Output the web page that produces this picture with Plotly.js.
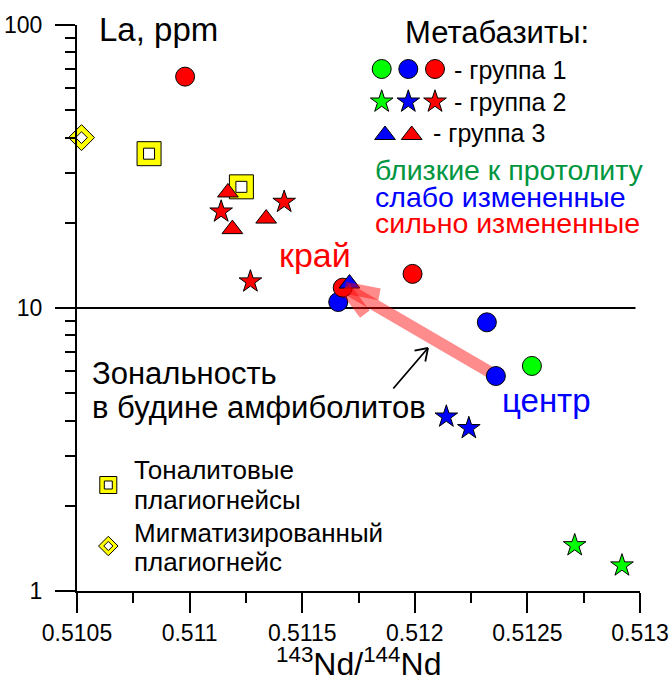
<!DOCTYPE html>
<html><head><meta charset="utf-8">
<script src="https://cdn.plot.ly/plotly-3.0.1.min.js"></script>
<style>html,body{margin:0;padding:0;background:#fff}#plot{width:672px;height:677px}</style>
</head><body><div id="plot"></div>
<script>
// ---- data (143Nd/144Nd vs La, ppm) ----
const g1GreenX = [0.51252];                     const g1GreenY = [6.24];
const g1BlueX  = [0.51166, 0.51232, 0.51236];   const g1BlueY  = [10.5, 8.9, 5.75];
const g1RedX   = [0.51098, 0.51199, 0.51168];   const g1RedY   = [65.7, 13.2, 11.8];
const g2GreenX = [0.51271, 0.51292];            const g2GreenY = [1.45, 1.23];
const g2BlueX  = [0.51214, 0.51224];            const g2BlueY  = [4.13, 3.76];
const g2RedX   = [0.51142, 0.51114, 0.51127];   const g2RedY   = [23.7, 21.9, 12.4];
const g3BlueX  = [0.51171];                     const g3BlueY  = [12.2];
const g3RedX   = [0.51117, 0.51134, 0.51119];   const g3RedY   = [25.6, 20.7, 19.0];
const tonX     = [0.51082, 0.51123];            const tonY     = [35.1, 26.8];
const migX     = [0.51052];                     const migY     = [40];
// reference line La = 10
const refLineX = [0.5105, 0.51298];             const refLineY = [10, 10];
// zonality arrow in boudin: centre -> rim
const zoneArrowX = [0.51233, 0.51169];          const zoneArrowY = [5.96, 11.8];
// ticks
const xTickVals = [0.5105, 0.511, 0.5115, 0.512, 0.5125, 0.513];
const xTickText = ['0.5105', '0.511', '0.5115', '0.512', '0.5125', '0.513'];
const xMinorVals = [0.51075, 0.51125, 0.51175, 0.51225, 0.51275];
const yTickVals = [1, 10, 100];
const yTickText = ['1', '10', '100'];
const yMinorVals = [2,3,4,5,6,7,8,9,20,30,40,50,60,70,80,90];
const xTitle = '<sup>143</sup>Nd/<sup>144</sup>Nd';

const FONT = 'Liberation Sans, Arial, sans-serif';
const GREEN = '#00FF00', BLUE = '#0000FF', RED = '#FF0000', YEL = '#FFFF00';
const PINK = 'rgba(255,0,0,0.45)';
const ln = {color: '#000', width: 1};

function pts(x, y, symbol, size, color, extra) {
  return Object.assign({type: 'scatter', mode: 'markers', x: x, y: y, hoverinfo: 'skip', showlegend: false,
    marker: {symbol: symbol, size: size, color: color, line: ln}}, extra || {});
}
// overlay pixel-space axes for key symbols
function key(x, y, symbol, size, color) {
  return pts(x, y, symbol, size, color, {xaxis: 'x2', yaxis: 'y2', cliponaxis: false});
}

const traces = [
  {type: 'scatter', mode: 'lines', x: refLineX, y: refLineY, line: {color: '#000', width: 2}, hoverinfo: 'skip', showlegend: false},
  {type: 'scatter', mode: 'lines', x: zoneArrowX, y: zoneArrowY, line: {color: PINK, width: 12}, hoverinfo: 'skip', showlegend: false},
  pts(tonX, tonY, 'square', 24, YEL),
  pts(tonX, tonY, 'square', 11, '#fff'),
  pts(migX, migY, 'diamond', 20, YEL, {cliponaxis: false}),
  pts(migX, migY, 'diamond', 9, '#fff', {cliponaxis: false}),
  pts(g1BlueX, g1BlueY, 'circle', 19, BLUE),
  pts(g1RedX, g1RedY, 'circle', 19, RED),
  pts(g1GreenX, g1GreenY, 'circle', 19, GREEN),
  pts(g2GreenX, g2GreenY, 'star', 17, GREEN),
  pts(g2BlueX, g2BlueY, 'star', 17, BLUE),
  pts(g2RedX, g2RedY, 'star', 17, RED),
  pts(g3RedX, g3RedY, 'triangle-up', 18, RED),
  pts(g3BlueX, g3BlueY, 'triangle-up', 18, BLUE),
  // key symbols (pixel positions on overlay axes)
  key([381.7, 408.3, 435], [69, 69, 69], 'circle', 19, [GREEN, BLUE, RED]),
  key([381.7, 408.3, 435], [101.7, 101.7, 101.7], 'star', 17, [GREEN, BLUE, RED]),
  key([385, 411.7], [135, 135], 'triangle-up', 18, [BLUE, RED]),
  key([108.3], [485], 'square', 17, YEL),
  key([108.3], [485], 'square', 8, '#fff'),
  key([108.3], [546], 'diamond', 15, YEL),
  key([108.3], [546], 'diamond', 7, '#fff')
];

function txt(t, x, y, size, color, anchor) {
  return {xref: 'x2', yref: 'y2', x: x, y: y, text: t, showarrow: false, xanchor: anchor || 'left', yanchor: 'middle',
    font: {family: FONT, size: size, color: color || '#000'}};
}
// plain line segment ending at a point (arrow-head arms)
function arm(xref, yref, x, y, dx, dy, w, c) {
  return {xref: xref, yref: yref, x: x, y: y, ax: dx, ay: dy, axref: 'pixel', ayref: 'pixel', text: '',
    showarrow: true, arrowhead: 0, arrowwidth: w, arrowcolor: c, standoff: 0};
}
const tipY = Math.log10(zoneArrowY[1]);

const annotations = [
  txt('La, ppm', 97, 29, 33),
  txt('Метабазиты:', 403, 32, 31),
  txt('- группа 1', 452, 70, 25),
  txt('- группа 2', 452, 102, 25),
  txt('- группа 3', 431, 133, 25),
  txt('близкие к протолиту', 373, 170, 28.5, '#009640'),
  txt('слабо измененные', 373, 197, 28.5, BLUE),
  txt('сильно измененные', 373, 223, 28.5, RED),
  txt('край', 277, 255, 34, RED),
  txt('центр', 500, 400, 33, BLUE),
  txt('Зональность', 90, 373, 31),
  txt('в будине амфиболитов', 90, 407, 31),
  txt('Тоналитовые', 132, 470, 26),
  txt('плагиогнейсы', 132, 500, 26),
  txt('Мигматизированный', 132, 533, 26),
  txt('плагиогнейс', 132, 562, 26),
  // x-axis title
  {xref: 'paper', yref: 'paper', x: 0.5, y: -0.126, xanchor: 'center', yanchor: 'middle', showarrow: false, borderpad: 0,
   text: xTitle, font: {family: FONT, size: 32, color: '#000'}},
  // open arrow-head arms of the zonality arrow
  arm('x', 'y', zoneArrowX[1], tipY, 36, 7, 12, PINK),
  arm('x', 'y', zoneArrowX[1], tipY, 21, 28, 12, PINK),
  // pointer arrow from caption
  {xref: 'x2', yref: 'y2', axref: 'x2', ayref: 'y2', x: 428, y: 348, ax: 392, ay: 390, text: '', showarrow: true,
   arrowhead: 0, arrowwidth: 1.8, arrowcolor: '#000', standoff: 0},
  arm('x2', 'y2', 428, 348, -15, 3, 1.8, '#000'),
  arm('x2', 'y2', 428, 348, -3, 15, 1.8, '#000')
];

const layout = {
  width: 672, height: 677,
  margin: {l: 77, r: 32, t: 25, b: 86},
  paper_bgcolor: '#fff', plot_bgcolor: '#fff',
  font: {family: FONT, size: 23, color: '#000'},
  showlegend: false,
  xaxis: {range: [0.5105, 0.513], showgrid: false, zeroline: false, showline: true, linecolor: '#000', linewidth: 2,
    tickmode: 'array', tickvals: xTickVals, ticktext: xTickText, ticks: 'outside', ticklen: 20, tickwidth: 2, tickcolor: '#000',
    tickfont: {family: FONT, size: 23},
    minor: {tickmode: 'array', tickvals: xMinorVals, ticks: 'outside', ticklen: 10, tickwidth: 2, tickcolor: '#000', showgrid: false}},
  yaxis: {type: 'log', range: [0, 2], showgrid: false, zeroline: false, showline: true, linecolor: '#000', linewidth: 2,
    tickmode: 'array', tickvals: yTickVals, ticktext: yTickText, ticks: 'outside', ticklen: 20, tickwidth: 2, tickcolor: '#000',
    ticklabelstandoff: 8, tickfont: {family: FONT, size: 23},
    minor: {tickmode: 'array', tickvals: yMinorVals, ticks: 'outside', ticklen: 10, tickwidth: 2, tickcolor: '#000', showgrid: false}},
  xaxis2: {overlaying: 'x', range: [77, 640], visible: false, fixedrange: true},
  yaxis2: {overlaying: 'y', range: [591, 25], visible: false, fixedrange: true},
  annotations: annotations
};

Plotly.newPlot('plot', traces, layout, {staticPlot: true, displayModeBar: false});
</script></body></html>
